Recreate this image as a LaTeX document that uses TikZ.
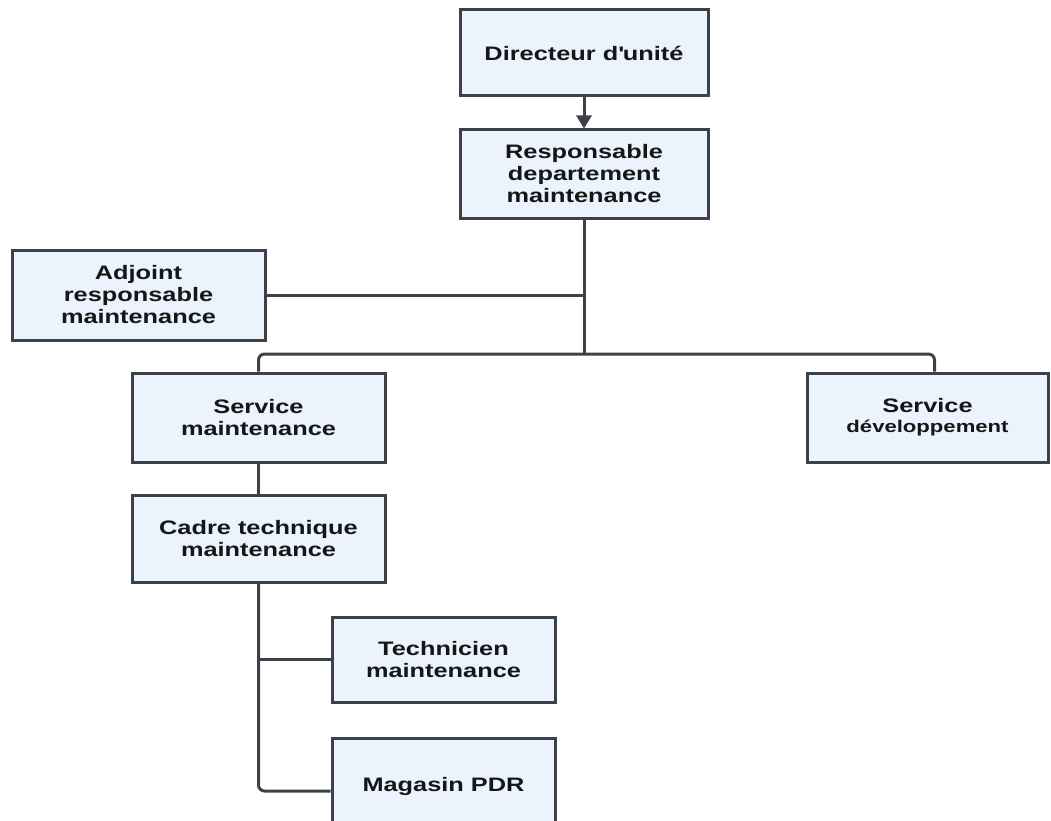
\documentclass[tikz,border=0pt]{standalone}
\usepackage{fontspec}
\setmainfont{Liberation Sans}[FakeStretch=1.3]
\usetikzlibrary{arrows.meta,calc}
\definecolor{boxfill}{HTML}{EBF3FD}
\definecolor{boxline}{HTML}{3D4148}
\definecolor{txt}{HTML}{161616}
\tikzset{
  unit/.style={draw=boxline, fill=boxfill, line width=3pt, inner sep=0pt,
    align=center, text=txt, font=\fontsize{19.5}{22}\selectfont\bfseries},
  link/.style={draw=boxline, line width=3pt},
  arrowlink/.style={link, -{Triangle[length=13pt,width=15pt]}}
}
\begin{document}
\begin{tikzpicture}[x=1pt,y=-1pt]
  \useasboundingbox (0,0) rectangle (1051,821);
  \clip (0,0) rectangle (1051,821);

  % units
  \node[unit, minimum width=248, minimum height=86] (dir) at (584,53)
    {Directeur d\textquotesingle unité};
  \node[unit, minimum width=248, minimum height=88] (resp) at (584,174)
    {Responsable\\departement\\maintenance};
  \node[unit, minimum width=253, minimum height=90] (adj) at (138.5,295)
    {Adjoint\\responsable\\maintenance};
  \node[unit, minimum width=253, minimum height=89] (smaint) at (258.5,417.5)
    {Service\\maintenance};
  \node[unit, minimum width=241, minimum height=89] (sdev) at (927.5,417.5)
    {Service\\[-2pt]{\fontsize{17}{20}\selectfont développement}};
  \node[unit, minimum width=253, minimum height=87] (cadre) at (258.5,538.5)
    {Cadre technique\\maintenance};
  \node[unit, minimum width=223, minimum height=85] (tech) at (443.5,659.5)
    {Technicien\\maintenance};
  \node[unit, minimum width=223, minimum height=96] (mag) at (443.5,786)
    {Magasin PDR};

  % junction of the main bus
  \coordinate (bus) at (584,354);

  % connectors
  \draw[arrowlink] (dir) -- (resp);
  \draw[link] (resp.south) -- (bus);
  \draw[link] (adj.east) -- (adj.east -| resp.south);
  \draw[link, rounded corners=6pt] (smaint.north) |- (bus) -| ([xshift=7pt]sdev.north);
  \draw[link] (smaint) -- (cadre);
  \draw[link, rounded corners=6pt] (cadre.south) |- ([yshift=-5pt]mag.west);
  \draw[link] (cadre.south |- tech.west) -- (tech.west);
\end{tikzpicture}
\end{document}
